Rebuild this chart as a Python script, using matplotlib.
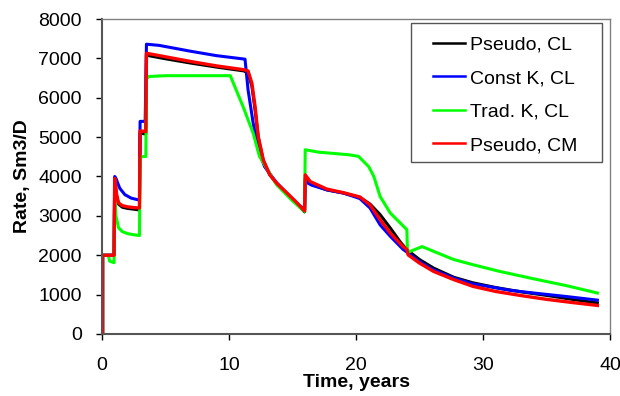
import matplotlib
matplotlib.use("Agg")
import matplotlib.pyplot as plt
from matplotlib.patches import Rectangle

plt.rcParams['font.family'] = ['Liberation Sans', 'DejaVu Sans']

# Pseudo, CL (black)
t_black = [0, 0.05, 0.05, 0.95, 1.0, 1.15, 1.3, 1.6, 2.0, 2.5, 2.95, 3.0, 3.45, 3.5, 5, 7, 9, 11.2, 11.5, 11.8,
           12.05, 12.3, 12.7, 13.2, 13.75, 14.5, 15.2, 15.95, 16.0, 16.4, 17.7, 19, 20.3, 21.1, 21.9, 22.7, 23.5,
           24.0, 25, 26.1, 27.7, 29.2, 31, 33, 35, 37, 39]
v_black = [0, 0, 2000, 2000, 3950, 3500, 3300, 3220, 3190, 3170, 3150, 5100, 5080, 7080, 6990, 6880, 6780, 6680,
           6620, 6300, 5700, 5000, 4400, 4050, 3820, 3580, 3350, 3100, 3950, 3820, 3660, 3580, 3470, 3300, 3030,
           2690, 2330, 2140, 1890, 1675, 1440, 1300, 1180, 1070, 980, 880, 790]

# Const K, CL (blue)
t_blue = [0, 0.05, 0.05, 0.95, 1.0, 1.1, 1.4, 1.8, 2.3, 2.95, 3.0, 3.4, 3.5, 4.5, 7, 9, 11.26, 11.5, 11.9, 12.3,
          12.8, 13.75, 15.05, 15.95, 16.0, 16.5, 17.7, 19, 20.3, 21.1, 21.9, 22.7, 23.7, 24.0, 25, 26.1, 27.7,
          29.2, 30, 32.1, 34, 36.6, 39]
v_blue = [0, 0, 2000, 2000, 4000, 3950, 3700, 3540, 3450, 3400, 5400, 5400, 7360, 7330, 7180, 7070, 6980, 6200,
          5360, 4680, 4250, 3840, 3410, 3150, 3870, 3780, 3660, 3580, 3440, 3200, 2770, 2480, 2150, 2080, 1840,
          1630, 1420, 1270, 1230, 1110, 1040, 950, 860]

# Trad. K, CL (green)
t_green = [0, 0.05, 0.05, 0.5, 0.6, 0.95, 1.0, 1.1, 1.3, 1.6, 2.0, 2.5, 2.95, 3.0, 3.45, 3.5, 3.7, 5, 10.1, 11.1,
           11.9, 12.4, 13.75, 15.0, 15.95, 16.0, 17, 19.5, 20.2, 21, 21.4, 21.9, 22.7, 24.0, 24.05, 25.2, 26.1,
           27.7, 29.2, 31.3, 34, 36.6, 39]
v_green = [0, 0, 2000, 2000, 1850, 1810, 3600, 3000, 2700, 2600, 2550, 2520, 2500, 4500, 4510, 6480, 6540, 6560,
           6560, 5780, 5100, 4510, 3790, 3380, 3110, 4680, 4620, 4550, 4510, 4250, 4000, 3490, 3070, 2650, 2070,
           2220, 2100, 1890, 1760, 1590, 1400, 1225, 1040]

# Pseudo, CM (red)
t_red = [0, 0.05, 0.05, 0.95, 1.0, 1.15, 1.3, 1.6, 2.0, 2.5, 2.95, 3.0, 3.45, 3.5, 5, 7, 9, 11.2, 11.5, 11.8,
         12.05, 12.3, 12.7, 13.2, 13.75, 14.5, 15.2, 15.95, 16.0, 16.4, 17.7, 19, 20.3, 21.1, 21.9, 22.7, 23.7,
         24.0, 24.1, 25, 26.1, 27.7, 29.2, 31, 33, 35, 37, 39]
v_red = [0, 0, 2000, 2000, 3950, 3550, 3330, 3260, 3230, 3210, 3200, 5160, 5140, 7130, 7040, 6920, 6810, 6710,
         6680, 6370, 5780, 5015, 4420, 4050, 3830, 3600, 3380, 3130, 4040, 3870, 3680, 3590, 3480, 3280, 2900,
         2560, 2220, 2150, 2010, 1800, 1590, 1380, 1210, 1080, 975, 880, 800, 725]

labels = ["Pseudo, CL", "Const K, CL", "Trad. K, CL", "Pseudo, CM"]
x_ticks = [0, 10, 20, 30, 40]
y_ticks = [0, 1000, 2000, 3000, 4000, 5000, 6000, 7000, 8000]

FS = 14

fig = plt.figure(figsize=(6.2, 3.96), dpi=100)
ax = fig.add_axes([0.1645, 0.1566, 0.8195, 0.7954])

ax.plot(t_black, v_black, color='black', lw=2.2, label=labels[0])
ax.plot(t_blue, v_blue, color='#0000ff', lw=2.2, label=labels[1])
ax.plot(t_green, v_green, color='#00ff00', lw=2.2, label=labels[2])
ax.plot(t_red, v_red, color='#ff0000', lw=2.4, label=labels[3])

ax.set_xlim(0, 40)
ax.set_ylim(0, 8000)
ax.set_xticks(x_ticks)
ax.set_yticks(y_ticks)
ax.tick_params(direction='out', length=4.5, width=1, labelsize=FS, colors='black')
ax.tick_params(axis='x', pad=12)
ax.tick_params(axis='y', pad=10)
for s in ['top', 'right']:
    ax.spines[s].set_color('#808080')
    ax.spines[s].set_linewidth(1)
for s in ['left', 'bottom']:
    ax.spines[s].set_color('#555555')
    ax.spines[s].set_linewidth(1.5)

ax.set_xlabel("Time, years", fontsize=FS, fontweight='bold', labelpad=0)
ax.set_ylabel("Rate, Sm3/D", fontsize=FS, fontweight='bold', labelpad=5)

# legend frame
ax.add_patch(Rectangle((411 / 620, 1 - 162 / 396), 191 / 620, 139 / 396, transform=fig.transFigure,
                       facecolor='white', edgecolor='#555555', linewidth=1, zorder=5, clip_on=False))
leg = ax.legend(loc='upper left', bbox_to_anchor=(433 / 620, 1 - 36 / 396), bbox_transform=fig.transFigure,
                borderaxespad=0, borderpad=0, fontsize=FS, frameon=False, handlelength=1.65,
                handletextpad=0.25, labelspacing=0.82)
leg.set_zorder(6)
for h in leg.get_lines():
    h.set_linewidth(1.8)

fig.savefig("out.png", dpi=100)
